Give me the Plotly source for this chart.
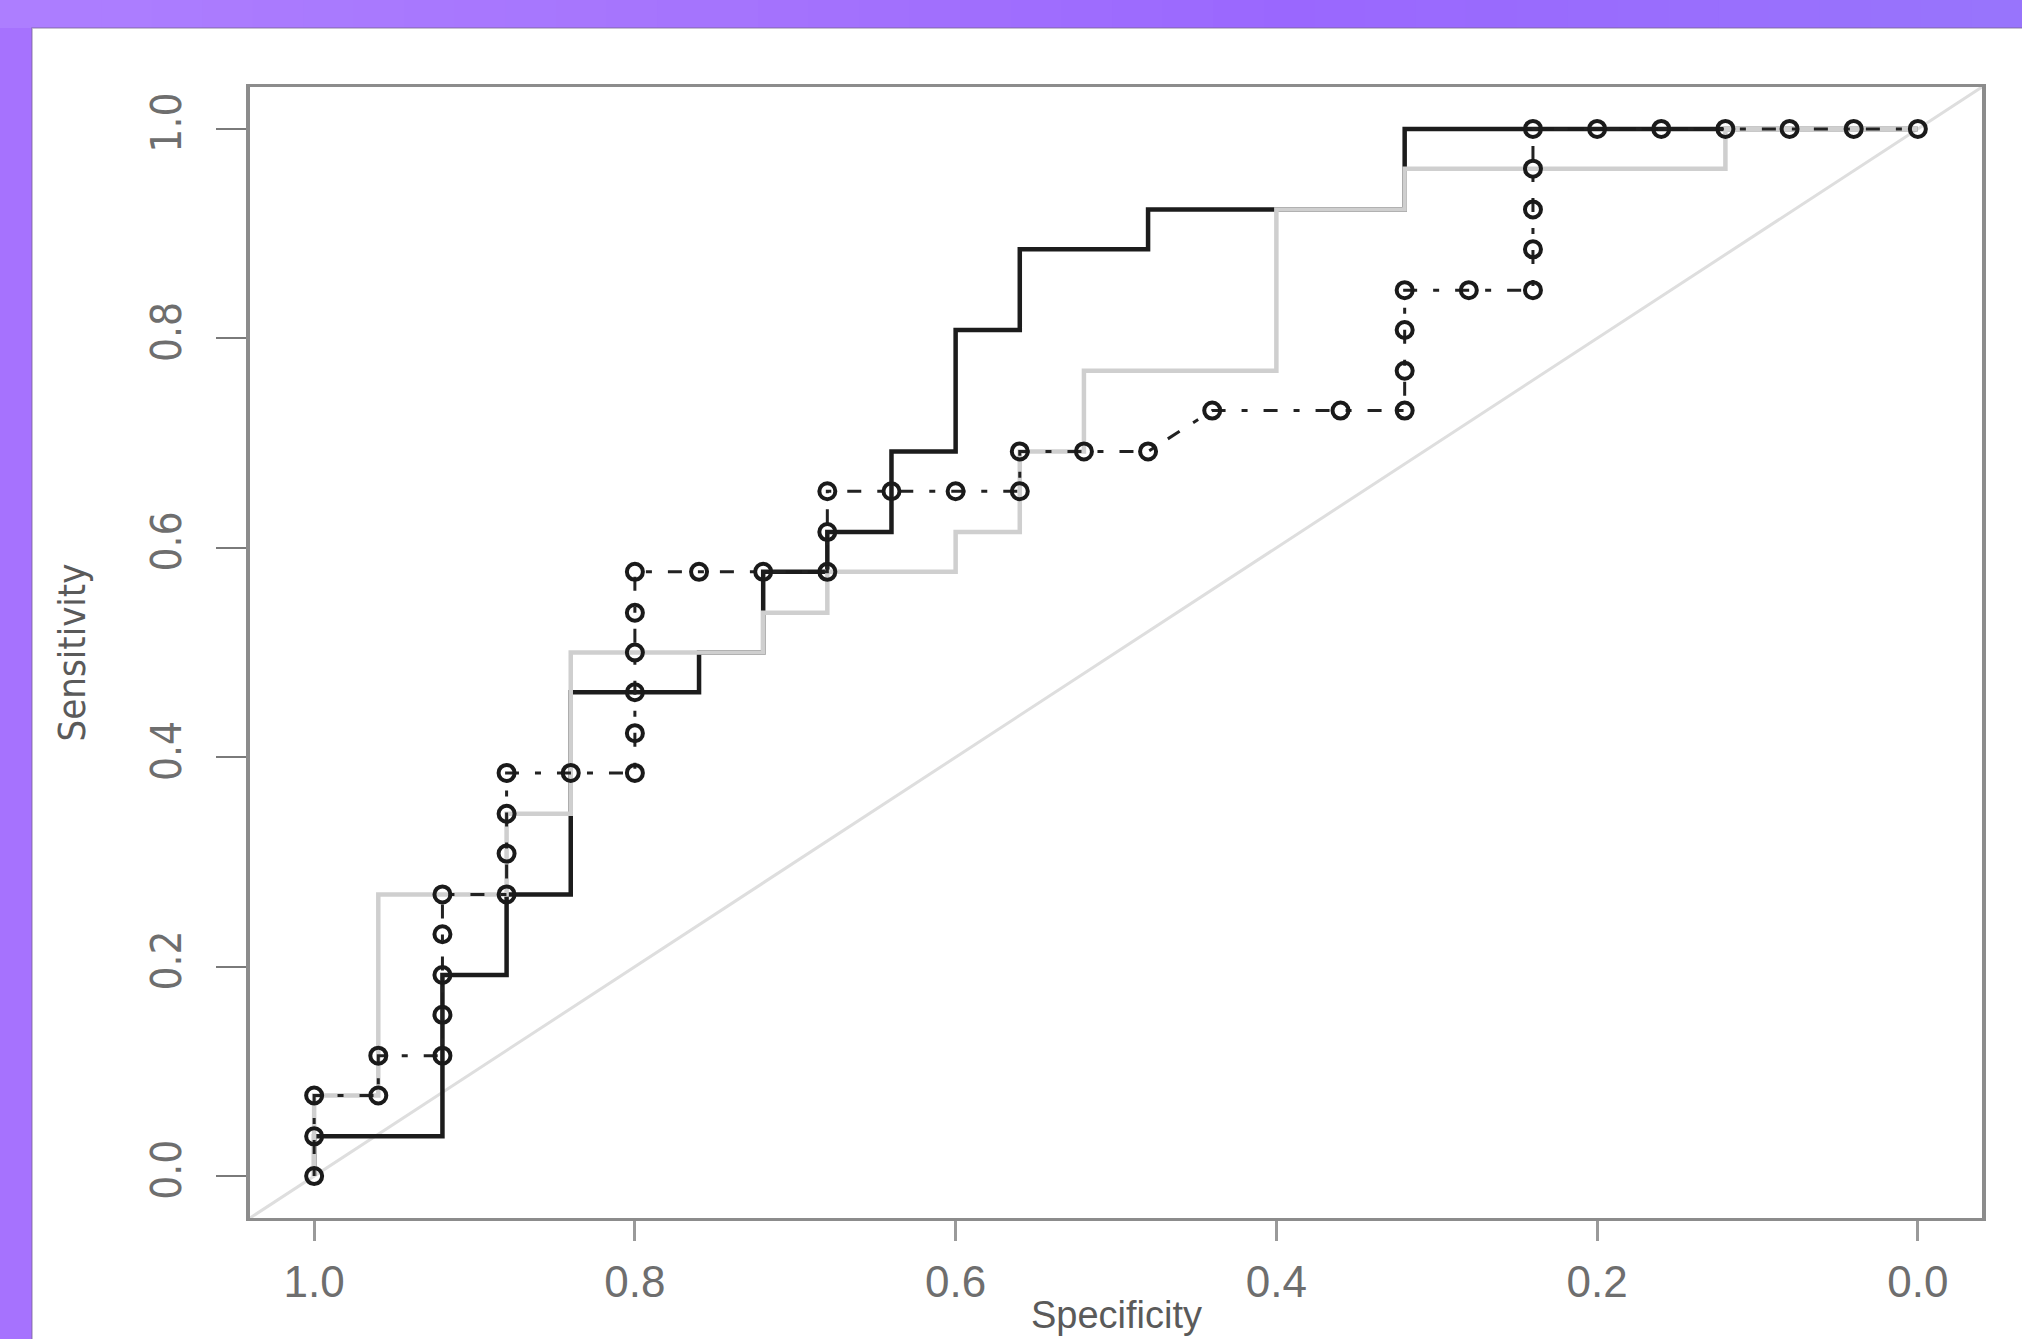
import plotly.graph_objects as go

# ---------------- data ----------------
# ROC curve A (black solid)
spec_a = [1.00, 1.00, 0.92, 0.92, 0.88, 0.88, 0.84, 0.84, 0.76, 0.76, 0.72, 0.72, 0.68,
          0.68, 0.64, 0.64, 0.60, 0.60, 0.56, 0.56, 0.48, 0.48, 0.32, 0.32, 0.00]
sens_a = [0.000, 0.038, 0.038, 0.192, 0.192, 0.269, 0.269, 0.462, 0.462, 0.500, 0.500, 0.577, 0.577,
          0.615, 0.615, 0.692, 0.692, 0.808, 0.808, 0.885, 0.885, 0.923, 0.923, 1.000, 1.000]

# ROC curve B (light grey solid)
spec_b = [1.00, 1.00, 0.96, 0.96, 0.88, 0.88, 0.84, 0.84, 0.72, 0.72, 0.68, 0.68, 0.60,
          0.60, 0.56, 0.56, 0.52, 0.52, 0.40, 0.40, 0.32, 0.32, 0.12, 0.12, 0.00]
sens_b = [0.000, 0.077, 0.077, 0.269, 0.269, 0.346, 0.346, 0.500, 0.500, 0.538, 0.538, 0.577, 0.577,
          0.615, 0.615, 0.692, 0.692, 0.769, 0.769, 0.923, 0.923, 0.962, 0.962, 1.000, 1.000]

# ROC curve C (dotted with point markers)
spec_c = [1.00, 1.00, 1.00, 0.96, 0.96, 0.92, 0.92, 0.92, 0.92, 0.92,
          0.88, 0.88, 0.88, 0.88, 0.84, 0.80, 0.80, 0.80, 0.80, 0.80,
          0.80, 0.76, 0.72, 0.68, 0.68, 0.68, 0.64, 0.60, 0.56, 0.56,
          0.52, 0.48, 0.44, 0.36, 0.32, 0.32, 0.32, 0.32, 0.28, 0.24,
          0.24, 0.24, 0.24, 0.24, 0.20, 0.16, 0.12, 0.08, 0.04, 0.00]
sens_c = [0.000, 0.038, 0.077, 0.077, 0.115, 0.115, 0.154, 0.192, 0.231, 0.269,
          0.269, 0.308, 0.346, 0.385, 0.385, 0.385, 0.423, 0.462, 0.500, 0.538,
          0.577, 0.577, 0.577, 0.577, 0.615, 0.654, 0.654, 0.654, 0.654, 0.692,
          0.692, 0.692, 0.731, 0.731, 0.731, 0.769, 0.808, 0.846, 0.846, 0.846,
          0.885, 0.923, 0.962, 1.000, 1.000, 1.000, 1.000, 1.000, 1.000, 1.000]

x_tick_vals = [1.0, 0.8, 0.6, 0.4, 0.2, 0.0]
x_tick_text = ["1.0", "0.8", "0.6", "0.4", "0.2", "0.0"]
y_tick_vals = [0.0, 0.2, 0.4, 0.6, 0.8, 1.0]
y_tick_text = ["0.0", "0.2", "0.4", "0.6", "0.8", "1.0"]

x_title = "Specificity"
y_title = "Sensitivity"

# ---------------- layout geometry ----------------
W, H = 2022, 1339
L, R, T, B = 250, 40, 87, 121
PW, PH = W - L - R, H - T - B


def px_x(p):
    return (p - L) / PW


def px_y(p):
    return 1 - (p - T) / PH


NARROW = "Liberation Sans Narrow, DejaVu Sans Condensed, Liberation Sans, Arial, sans-serif"
SANS = "Liberation Sans, Arial, sans-serif"

fig = go.Figure()

fig.add_trace(go.Scatter(x=spec_a, y=sens_a, mode="lines",
                         line=dict(color="#1c1c1c", width=4.5),
                         hoverinfo="skip", showlegend=False))
fig.add_trace(go.Scatter(x=spec_b, y=sens_b, mode="lines",
                         line=dict(color="#cfcfcf", width=4.5),
                         hoverinfo="skip", showlegend=False))
fig.add_trace(go.Scatter(x=spec_c, y=sens_c, mode="lines+markers",
                         line=dict(color="#222222", width=3, dash="6px,16px,14px,16px"),
                         marker=dict(symbol="circle-open", size=16,
                                     line=dict(color="#1a1a1a", width=4),
                                     color="#1a1a1a"),
                         hoverinfo="skip", showlegend=False))

shapes = []
# purple frame gradient strips (top band)
stops = [(0.0, (173, 126, 255)), (0.35, (165, 116, 253)), (0.65, (154, 103, 254)), (1.0, (152, 116, 252))]


def grad(t):
    for (t0, c0), (t1, c1) in zip(stops[:-1], stops[1:]):
        if t0 <= t <= t1:
            f = (t - t0) / (t1 - t0) if t1 > t0 else 0
            return "rgb(%d,%d,%d)" % tuple(round(a + (b - a) * f) for a, b in zip(c0, c1))
    return "rgb(%d,%d,%d)" % stops[-1][1]


N = 40
for i in range(N):
    x0p = i * W / N
    x1p = (i + 1) * W / N + 1
    shapes.append(dict(type="rect", xref="paper", yref="paper",
                       x0=px_x(x0p), x1=px_x(x1p), y0=px_y(28), y1=px_y(-5),
                       fillcolor=grad(i / (N - 1)), line=dict(width=0), layer="below"))
# white panel
shapes.append(dict(type="rect", xref="paper", yref="paper",
                   x0=px_x(32), x1=px_x(W + 20), y0=px_y(H + 40), y1=px_y(28),
                   fillcolor="white", line=dict(color="rgba(120,100,150,0.55)", width=1.5),
                   layer="below"))
# chance diagonal (corner to corner of the plotting region)
shapes.append(dict(type="line", xref="x domain", yref="y domain", x0=0, y0=0, x1=1, y1=1,
                   line=dict(color="#dedede", width=3), layer="below"))

annotations = [
    dict(text=y_title, xref="paper", yref="paper", x=px_x(71), y=0.5,
         xanchor="center", yanchor="middle", textangle=-90, showarrow=False,
         font=dict(family=NARROW, size=38, color="#5a5a5a")),
    dict(text=x_title, xref="paper", yref="paper", x=0.5, y=px_y(1338),
         xanchor="center", yanchor="bottom", showarrow=False,
         font=dict(family=SANS, size=38, color="#5a5a5a")),
]

fig.update_layout(
    width=W, height=H,
    margin=dict(l=L, r=R, t=T, b=B, pad=0),
    paper_bgcolor="#a672fe",
    plot_bgcolor="rgba(0,0,0,0)",
    shapes=shapes,
    annotations=annotations,
    showlegend=False,
    xaxis=dict(range=[1.04, -0.04], tickmode="array", tickvals=x_tick_vals, ticktext=x_tick_text,
               ticks="outside", ticklen=20, tickwidth=3, tickcolor="#9a9a9a",
               showline=True, linecolor="#8c8c8c", linewidth=3, mirror=True,
               showgrid=False, zeroline=False, ticklabelstandoff=3,
               tickfont=dict(family=SANS, size=44, color="#6e6e6e")),
    yaxis=dict(range=[-0.04, 1.04], tickmode="array", tickvals=y_tick_vals, ticktext=y_tick_text,
               ticks="outside", ticklen=30, tickwidth=2, tickcolor="#7a7a7a", tickangle=-90,
               showline=True, linecolor="#8c8c8c", linewidth=4, mirror=True,
               showgrid=False, zeroline=False, ticklabelstandoff=18,
               tickfont=dict(family=NARROW, size=42, color="#6e6e6e")),
)

fig.write_html("out.html", config={"displayModeBar": False},
               post_script="document.body.style.margin='0';document.body.style.overflow='hidden';")
